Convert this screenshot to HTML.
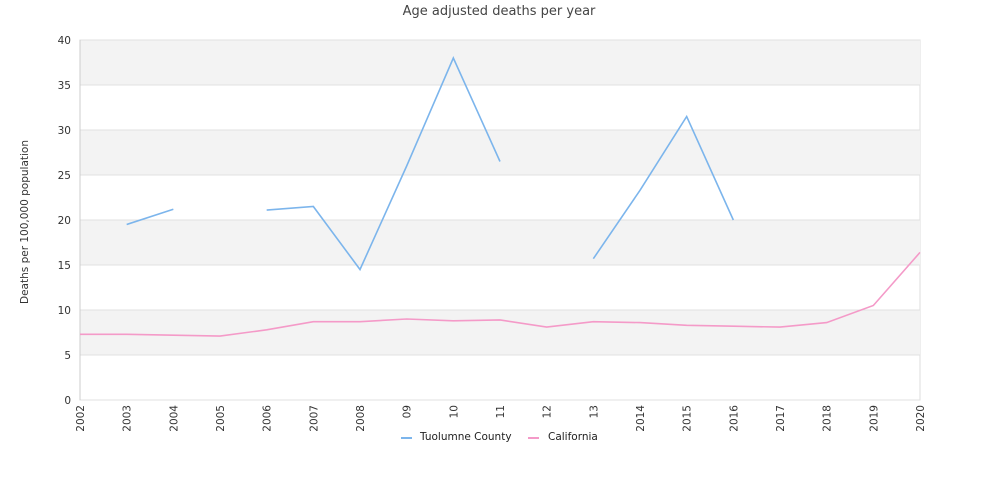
<!DOCTYPE html>
<html><head><meta charset="utf-8"><style>
html,body{margin:0;background:#fff;font-family:"Liberation Sans","DejaVu Sans",sans-serif;overflow:hidden;}
svg{display:block;}
svg text{font-family:"DejaVu Sans","Liberation Sans",sans-serif;}
</style></head><body>
<svg id="chart" width="1000" height="500" xmlns="http://www.w3.org/2000/svg">
<text x="499" y="15" text-anchor="middle" font-size="13" fill="#444">Age adjusted deaths per year</text>
<text transform="translate(28,222) rotate(-90)" text-anchor="middle" font-size="10.5" fill="#333">Deaths per 100,000 population</text>
<g id="bands"></g><g id="grid"></g><g id="yticks"></g><g id="xticks"></g><g id="series"></g>
<g>
<g><line x1="401" y1="438" x2="412" y2="438" stroke="#7cb5ec" stroke-width="2"/><text x="420" y="440" font-size="10.5" fill="#222">Tuolumne County</text></g>
<g><line x1="528" y1="438" x2="539" y2="438" stroke="#f49ac8" stroke-width="2"/><text x="548" y="440" font-size="10.5" fill="#222">California</text></g>
</g>
</svg>
<script>
const categories=["2002","2003","2004","2005","2006","2007","2008","09","10","11","12","13","2014","2015","2016","2017","2018","2019","2020"];
const tuolumne=[null,19.5,21.2,null,21.1,21.5,14.5,26,38,26.5,null,15.7,23.3,31.5,20,null,null,null,null];
const california=[7.3,7.3,7.2,7.1,7.8,8.7,8.7,9.0,8.8,8.9,8.1,8.7,8.6,8.3,8.2,8.1,8.6,10.5,16.4];
const yTicks=[0,5,10,15,20,25,30,35,40];
const X0=80,X1=920,Y0=400,Y1=40,YMAX=40;
const NS="http://www.w3.org/2000/svg";
const x=i=>X0+i*(X1-X0)/(categories.length-1);
const y=v=>Y0-v/YMAX*(Y0-Y1);
function mk(t,a,p){const e=document.createElementNS(NS,t);for(const k in a)e.setAttribute(k,a[k]);p.appendChild(e);return e;}
const bands=document.getElementById('bands'),grid=document.getElementById('grid'),yt=document.getElementById('yticks'),xt=document.getElementById('xticks'),ser=document.getElementById('series');
mk('rect',{x:X0,y:Y1,width:X1-X0,height:Y0-Y1,fill:'#fff',stroke:'#ddd'},bands);
for(let k=0;k<yTicks.length-1;k++){if(k%2===1){const r=mk('rect',{x:X0,y:y(yTicks[k+1]),width:X1-X0,height:y(yTicks[k])-y(yTicks[k+1]),fill:'#f3f3f3'},bands);

}}
yTicks.forEach(v=>{const l=mk('line',{x1:X0,x2:X1,y1:y(v),y2:y(v),stroke:'#e0e0e0'},grid);


const t=mk('text',{x:71,y:y(v)+4,'text-anchor':'end','font-size':'10.5',fill:'#333'},yt);t.textContent=v;

});
mk('line',{x1:X0,x2:X0,y1:Y1,y2:Y0,stroke:'#ccc'},grid);
categories.forEach((c,i)=>{const t=mk('text',{transform:`translate(${x(i)+4},405) rotate(-90)`,'text-anchor':'end','font-size':'10.5',fill:'#333'},xt);t.textContent=c;

});
function draw(vals,color,name){let segs=[],cur=[];vals.forEach((v,i)=>{if(v===null){if(cur.length)segs.push(cur);cur=[];}else cur.push([x(i),y(v)]);});if(cur.length)segs.push(cur);
segs.forEach(s=>{if(s.length<2)return;const p=mk('polyline',{points:s.map(q=>q.join(',')).join(' '),fill:'none',stroke:color,'stroke-width':'1.6'},ser);

});}
draw(california,'#f49ac8','california-line');
draw(tuolumne,'#7cb5ec','tuolumne-line');
</script>
</body></html>
